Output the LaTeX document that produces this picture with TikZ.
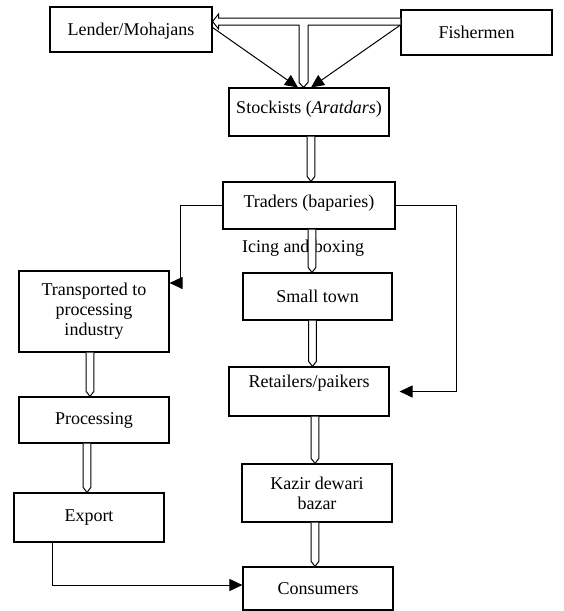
\documentclass[tikz,border=0pt]{standalone}
\usepackage{fontspec}
\setmainfont{Liberation Serif}
\usetikzlibrary{calc,arrows.meta}
\begin{document}
\begin{tikzpicture}[x=1pt,y=-1pt,
  box/.style={draw,line width=1.1pt,inner sep=2pt,align=center,font=\fontsize{18}{20}\selectfont},
  conn/.style={line width=1pt},
  arr/.style={line width=1pt,-{Triangle[length=13pt,width=12pt]}},
  hol/.style={line width=1pt,fill=white,to path={let \p1=(\tikztostart),\p2=(\tikztotarget) in
     (\x1-3.8pt,\y1) -- (\x1-3.8pt,\y2+5pt) -- (\x1,\y2) -- (\x1+3.8pt,\y2+5pt) -- (\x1+3.8pt,\y1)}}
]
\useasboundingbox (0,0) rectangle (563,611);
% boxes
\node[box,minimum width=162pt,minimum height=45pt] (lend) at (131,29.5) {\mbox{}\\[-5pt]Lender/Mohajans};
\node[box,minimum width=151pt,minimum height=45pt] (fish) at (476.5,32.5) {Fishermen};
\node[box,minimum width=160pt,minimum height=48pt] (stock) at (309,112) {Stockists (\textit{Aratdars})\\[-10pt]\mbox{}};
\node[box,minimum width=172pt,minimum height=47pt] (trad) at (309,205.5) {Traders (baparies)\\[-12pt]\mbox{}};
\node[box,minimum width=149pt,minimum height=47pt] (small) at (317.5,296.5) {Small town};
\node[box,minimum width=160pt,minimum height=49pt] (retail) at (309,391.5) {Retailers/paikers\\\mbox{}};
\node[box,minimum width=150pt,minimum height=58pt] (kazir) at (317,493) {Kazir dewari\\bazar};
\node[box,minimum width=150pt,minimum height=43pt] (cons) at (318,588.5) {Consumers};
\node[box,minimum width=150pt,minimum height=81pt] (trans) at (94,311.5) {Transported to\\processing\\industry};
\node[box,minimum width=150pt,minimum height=46pt] (proc) at (94,420) {Processing};
\node[box,minimum width=150pt,minimum height=49pt] (exp) at (89,517.5) {Export};
\node[font=\fontsize{18}{20}\selectfont,inner sep=0pt] (icing) at (303,248) {Icing and boxing};
% T-shaped hollow arrow from Fishermen
\coordinate (tA) at ($(lend.east)+(0,-8)$);
\coordinate (tB) at ($(fish.west)+(0,-11)$);
\coordinate (sx) at ($(stock.north)+(-5.5,0)$);
\coordinate (vx) at (sx |- tA);
\draw[conn,fill=white] ($(tB)+(0,-3.5)$) -- ($(tA)+(6,-3.5)$) -- ($(tA)+(6,-7.5)$) -- (tA)
  -- ($(tA)+(6,7.5)$) -- ($(tA)+(6,3.5)$) -- ($(vx)+(-4.5,3.5)$) -- ($(sx)+(-4.5,-5)$) -- (sx)
  -- ($(sx)+(4.5,-5)$) -- ($(vx)+(4.5,3.5)$) -- ($(tB)+(0,3.5)$);
% diagonal arrows
\draw[arr] ($(lend.east)+(0,-2)$) -- ($(stock.north)+(-11,0)$);
\draw[arr] ($(fish.west)+(0,-7.5)$) -- ($(stock.north)+(2,0)$);
% hollow vertical arrows
\draw[hol] ($(stock.south)+(2,0)$) to (trad.north);
\draw[hol] ($(trad.south)+(3,0)$) to (small.north);
\draw[hol] ($(small.south)+(-5,0)$) to (retail.north);
\draw[hol] ($(retail.south)+(6,0)$) to (kazir.north);
\draw[hol] ($(kazir.south)+(-2,0)$) to (cons.north);
\draw[hol] ($(trans.south)+(-4,0)$) to (proc.north);
\draw[hol] ($(proc.south)+(-7,0)$) to (exp.north);
% side connectors
\draw[arr] (trad.west) -| ($(trans.east)+(11,-28.5)$) -- ($(trans.east)+(0,-28.5)$);
\draw[arr] (trad.east) -| ($(retail.east)+(67,0)$) -- ($(retail.east)+(10,0)$);
\draw[arr] ($(exp.south)+(-37,0)$) |- ($(cons.west)+(0,-3.5)$);
\end{tikzpicture}
\end{document}
